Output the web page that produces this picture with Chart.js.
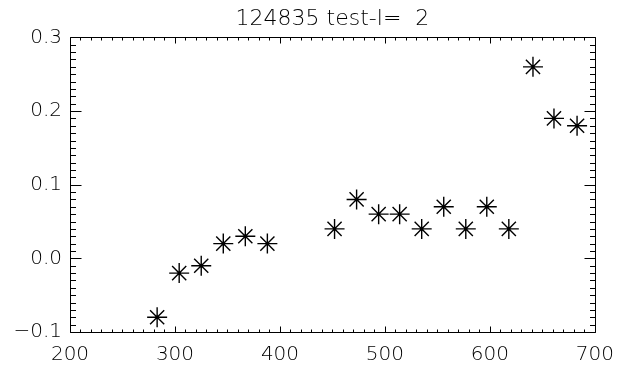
<!DOCTYPE html>
<html>
<head>
<meta charset="utf-8">
<script src="https://cdn.jsdelivr.net/npm/chart.js@4/dist/chart.umd.min.js"></script>
<style>
  html, body { margin: 0; padding: 0; background: #fff; }
  canvas { display: block; }
</style>
</head>
<body>
<canvas id="c" width="625" height="366"></canvas>
<script>
const titleText = "124835 test-l=  2";
const xValues = [283, 304, 325, 346, 367, 388, 452, 473, 494, 514, 535, 556, 577, 597, 618, 641, 661, 683];
const yValues = [-0.08, -0.02, -0.01, 0.02, 0.03, 0.02, 0.04, 0.08, 0.06, 0.06, 0.04, 0.07, 0.04, 0.07, 0.04, 0.26, 0.19, 0.18];
const xTicks = [200, 300, 400, 500, 600, 700];
const yTicks = [-0.1, 0.0, 0.1, 0.2, 0.3];
const xMinorPerMajor = 10;
const yMinorPerMajor = 10;

const FONT = "'DejaVu Sans', 'Liberation Sans', sans-serif";

const points = xValues.map((x, i) => ({ x: x, y: yValues[i] }));

const idlAxes = {
  id: 'idlAxes',
  beforeDatasetsDraw(chart) {
    const { ctx, chartArea: { left, right, top, bottom }, scales: { x, y } } = chart;
    ctx.save();
    ctx.strokeStyle = '#000';
    ctx.lineWidth = 1;
    const L = Math.round(left) + 0.5, R = Math.round(right) + 0.5;
    const T = Math.round(top) + 0.5, B = Math.round(bottom) + 0.5;
    ctx.beginPath();
    ctx.rect(L, T, R - L, B - T);
    ctx.stroke();
    ctx.beginPath();
    const xs = xTicks[1] - xTicks[0];
    const nx = (xTicks.length - 1) * xMinorPerMajor;
    const xMajLen = 6, xMinLen = 3;
    for (let i = 0; i <= nx; i++) {
      const v = xTicks[0] + i * xs / xMinorPerMajor;
      const px = Math.round(x.getPixelForValue(v)) + 0.5;
      const len = (i % xMinorPerMajor === 0) ? xMajLen : xMinLen;
      ctx.moveTo(px, B); ctx.lineTo(px, B - len);
      ctx.moveTo(px, T); ctx.lineTo(px, T + len);
    }
    const ys = yTicks[1] - yTicks[0];
    const ny = (yTicks.length - 1) * yMinorPerMajor;
    const yMajLen = 11, yMinLen = 5.5;
    for (let i = 0; i <= ny; i++) {
      const v = yTicks[0] + i * ys / yMinorPerMajor;
      const py = Math.round(y.getPixelForValue(v)) + 0.5;
      const len = (i % yMinorPerMajor === 0) ? yMajLen : yMinLen;
      ctx.moveTo(L, py); ctx.lineTo(L + len, py);
      ctx.moveTo(R, py); ctx.lineTo(R - len, py);
    }
    ctx.stroke();
    ctx.restore();
  }
};

new Chart(document.getElementById('c'), {
  type: 'scatter',
  data: {
    datasets: [{
      data: points,
      pointStyle: 'star',
      pointRadius: 10,
      pointHoverRadius: 10,
      borderColor: '#000',
      backgroundColor: '#000',
      pointBorderWidth: 1.4,
      borderWidth: 1.4,
      showLine: false
    }]
  },
  options: {
    responsive: false,
    devicePixelRatio: 1,
    animation: false,
    layout: { padding: { left: 0, right: 24, top: 0, bottom: 0 } },
    plugins: {
      legend: { display: false },
      tooltip: { enabled: false },
      title: {
        display: true,
        fullSize: false,
        text: titleText,
        color: '#000',
        font: { family: FONT, size: 22, weight: 200 },
        padding: { top: 6, bottom: 5 }
      }
    },
    scales: {
      x: {
        type: 'linear',
        min: xTicks[0],
        max: xTicks[xTicks.length - 1],
        afterBuildTicks: (s) => { s.ticks = xTicks.map(v => ({ value: v })); },
        afterFit: (s) => { s.height = 34; },
        grid: { display: false, drawTicks: false },
        border: { display: false },
        ticks: {
          color: '#000',
          padding: 11,
          maxRotation: 0,
          autoSkip: false,
          font: { family: FONT, size: 20, weight: 200 },
          callback: (v) => String(v)
        }
      },
      y: {
        type: 'linear',
        min: yTicks[0],
        max: yTicks[yTicks.length - 1],
        afterBuildTicks: (s) => { s.ticks = yTicks.map(v => ({ value: v })); },
        afterFit: (s) => { s.width = 70; },
        grid: { display: false, drawTicks: false },
        border: { display: false },
        ticks: {
          color: '#000',
          padding: 8,
          autoSkip: false,
          font: { family: FONT, size: 20, weight: 200 },
          callback: (v) => Number(v).toFixed(1).replace('-', '\u2212')
        }
      }
    }
  },
  plugins: [idlAxes]
});
</script>
</body>
</html>
